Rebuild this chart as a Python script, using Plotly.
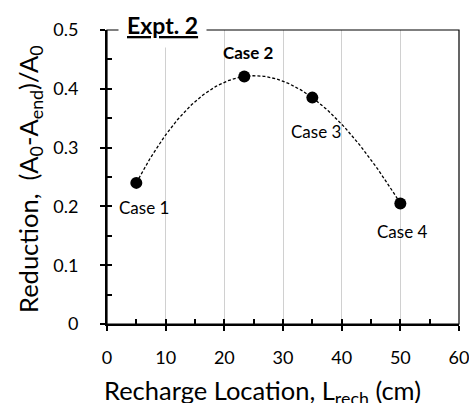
import numpy as np
import plotly.graph_objects as go

# Data
loc_cm = [5, 23.4, 35, 50]
reduction = [0.24, 0.421, 0.385, 0.205]
case_labels = ["Case 1", "<b>Case 2</b>", "Case 3", "Case 4"]
x_ticks = [0, 10, 20, 30, 40, 50, 60]
y_ticks = [0, 0.1, 0.2, 0.3, 0.4, 0.5]
y_tick_text = ["0", "0.1", "0.2", "0.3", "0.4", "0.5"]

# Polynomial trendline (3rd order) fitted to the data
coef = np.polyfit(loc_cm, reduction, 3)
xf = np.linspace(min(loc_cm), max(loc_cm), 200)
yf = np.polyval(coef, xf)

FONT = "Lato"
fig = go.Figure()
fig.add_trace(go.Scatter(x=xf, y=yf, mode="lines",
                         line=dict(color="black", width=1.3, dash="3px,2px"),
                         hoverinfo="skip", showlegend=False))
fig.add_trace(go.Scatter(x=loc_cm, y=reduction, mode="markers",
                         marker=dict(color="black", size=12),
                         showlegend=False))

# case labels: offsets (px) relative to points
offs = [(8, 25), (4, -24), (4, 34), (2, 28)]
for xv, yv, t, (dx, dy) in zip(loc_cm, reduction, case_labels, offs):
    fig.add_annotation(x=xv, y=yv, text=t, showarrow=False, xshift=dx, yshift=-dy,
                       font=dict(family=FONT, size=17, color="black"))

fig.update_layout(
    width=469, height=403,
    margin=dict(l=107, r=10, t=30, b=79),
    paper_bgcolor="white", plot_bgcolor="white",
    font=dict(family=FONT, color="black"),
    xaxis=dict(range=[0, 60], tickvals=x_ticks, ticks="outside", ticklen=5,
               tickwidth=1.5, tickcolor="black", showline=True, linewidth=2,
               linecolor="black", showgrid=True, gridcolor="#d0d0d0", gridwidth=1,
               zeroline=False, tickfont=dict(family=FONT, size=18),
               ticklabelstandoff=11, ticklabeloverflow="allow", automargin=False),
    yaxis=dict(range=[0, 0.5], tickvals=y_ticks, ticktext=y_tick_text,
               ticks="outside", ticklen=5, tickwidth=1.5, tickcolor="black",
               showline=True, linewidth=2, linecolor="black", showgrid=False,
               zeroline=False, tickfont=dict(family=FONT, size=18),
               ticklabelstandoff=18, ticklabeloverflow="allow", automargin=False),
    xaxis2=dict(range=[0, 60], overlaying="x", anchor="y", side="bottom",
                dtick=5, tick0=0, ticks="inside", ticklen=5, tickwidth=1.5,
                tickcolor="black", showticklabels=False, showgrid=False,
                showline=False, zeroline=False, automargin=False),
    yaxis2=dict(range=[0, 0.5], overlaying="y", anchor="x", side="left",
                dtick=0.05, tick0=0, ticks="inside", ticklen=5, tickwidth=1.5,
                tickcolor="black", showticklabels=False, showgrid=False,
                showline=False, zeroline=False, automargin=False),
)
# invisible trace to activate overlay axes
fig.add_trace(go.Scatter(x=[0], y=[0], xaxis="x2", yaxis="y2", mode="markers",
                         marker=dict(opacity=0), hoverinfo="skip", showlegend=False))

# frame (top/right)
fig.add_shape(type="rect", xref="paper", yref="paper", x0=0, x1=1, y0=0, y1=1,
              line=dict(color="black", width=1.2))

# title box
fig.add_annotation(xref="paper", yref="paper", x=(118 - 107) / 352,
                   y=1 + (30 - 25) / 294, xanchor="left",
                   yanchor="middle", text="<b><u>Expt. 2</u></b>", showarrow=False,
                   bgcolor="white", borderpad=8,
                   font=dict(family=FONT, size=23, color="black"))

# axis titles
fig.add_annotation(xref="paper", yref="paper", x=(262 - 107) / 352,
                   y=-(392 - 324) / 294, xanchor="center", yanchor="middle",
                   text="Recharge Location, L<sub>rech</sub> (cm)", showarrow=False,
                   font=dict(family=FONT, size=25.5, color="black"))
fig.add_annotation(xref="paper", yref="paper", x=(30 - 107) / 352,
                   y=(324 - 179) / 294, xanchor="center", yanchor="middle",
                   textangle=-90,
                   text="Reduction,  (A<sub>0</sub>-A<sub>end</sub>)/A<sub>0</sub>",
                   showarrow=False, font=dict(family=FONT, size=25.5, color="black"))

fig.write_html("out.html", config={"displayModeBar": False},
               post_script="document.body.style.margin='0';document.body.style.overflow='hidden';")
